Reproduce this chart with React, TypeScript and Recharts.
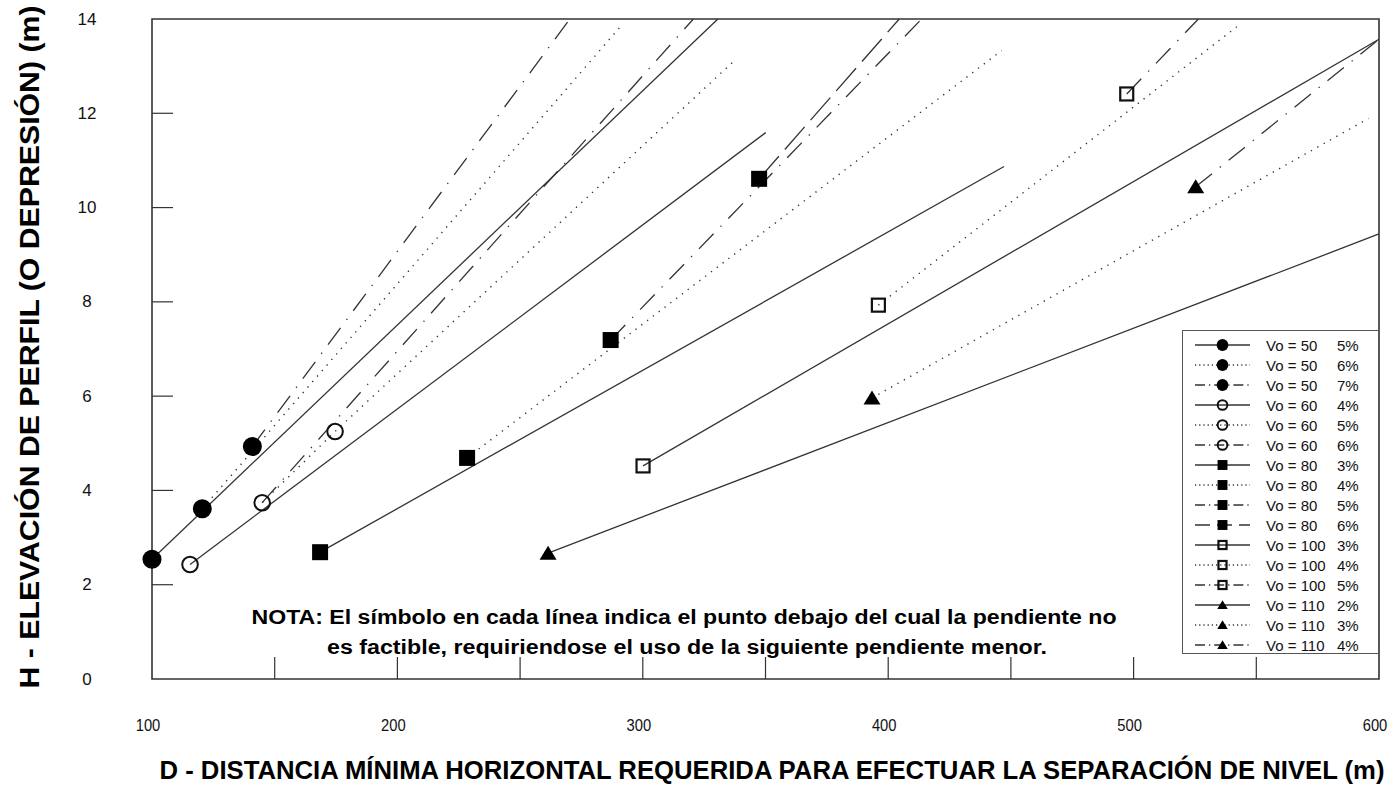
import React from 'react';
import { ComposedChart, Line, XAxis, YAxis, ReferenceArea, Legend, Customized } from 'recharts';

const FONT = '"Liberation Sans", Arial, Helvetica, sans-serif';
const INK = '#333';

// tramos [D (m), H (m)]
const v50_5 = [[100, 2.54], [330.6, 14]];
const v50_6 = [[120.5, 3.61], [291.1, 13.85]];
const v50_7 = [[140.9, 4.93], [270.3, 14]];
const v60_4 = [[115.5, 2.43], [350.1, 11.59]];
const v60_5 = [[144.9, 3.74], [174.6, 5.25], [337.6, 13.13]];
const v60_6 = [[144.9, 3.74], [320.6, 14]];
const v80_3 = [[168.5, 2.69], [447.2, 10.87]];
const v80_4 = [[228.4, 4.69], [446.2, 13.33]];
const v80_5 = [[286.9, 7.19], [413.6, 14]];
const v80_6 = [[347.4, 10.61], [404.5, 14]];
const v100_3 = [[300.1, 4.52], [600, 13.57]];
const v100_4 = [[396, 7.93], [543.4, 13.89]];
const v100_5 = [[497.2, 12.41], [526.4, 14]];
const v110_2 = [[261.4, 2.67], [600, 9.44]];
const v110_3 = [[393.4, 5.96], [595.7, 11.89]];
const v110_4 = [[525.3, 10.44], [600, 13.57]];

const xTicks = [100, 150, 200, 250, 300, 350, 400, 450, 500, 550, 600];
const yTicks = [0, 2, 4, 6, 8, 10, 12, 14];

type Sym = 'circle' | 'ocircle' | 'square' | 'osquare' | 'triangle';
type Dash = 'solid' | 'dot' | 'dashdot' | 'dash';

const series: { vo: number; pct: number; pts: number[][]; mark: number; dash: Dash; sym: Sym }[] = [
  { vo: 50, pct: 5, pts: v50_5, mark: 0, dash: 'solid', sym: 'circle' },
  { vo: 50, pct: 6, pts: v50_6, mark: 0, dash: 'dot', sym: 'circle' },
  { vo: 50, pct: 7, pts: v50_7, mark: 0, dash: 'dashdot', sym: 'circle' },
  { vo: 60, pct: 4, pts: v60_4, mark: 0, dash: 'solid', sym: 'ocircle' },
  { vo: 60, pct: 5, pts: v60_5, mark: 1, dash: 'dot', sym: 'ocircle' },
  { vo: 60, pct: 6, pts: v60_6, mark: 0, dash: 'dashdot', sym: 'ocircle' },
  { vo: 80, pct: 3, pts: v80_3, mark: 0, dash: 'solid', sym: 'square' },
  { vo: 80, pct: 4, pts: v80_4, mark: 0, dash: 'dot', sym: 'square' },
  { vo: 80, pct: 5, pts: v80_5, mark: 0, dash: 'dashdot', sym: 'square' },
  { vo: 80, pct: 6, pts: v80_6, mark: 0, dash: 'dash', sym: 'square' },
  { vo: 100, pct: 3, pts: v100_3, mark: 0, dash: 'solid', sym: 'osquare' },
  { vo: 100, pct: 4, pts: v100_4, mark: 0, dash: 'dot', sym: 'osquare' },
  { vo: 100, pct: 5, pts: v100_5, mark: 0, dash: 'dashdot', sym: 'osquare' },
  { vo: 110, pct: 2, pts: v110_2, mark: 0, dash: 'solid', sym: 'triangle' },
  { vo: 110, pct: 3, pts: v110_3, mark: 0, dash: 'dot', sym: 'triangle' },
  { vo: 110, pct: 4, pts: v110_4, mark: 0, dash: 'dashdot', sym: 'triangle' },
];

const plotDash: Record<Dash, string | undefined> = {
  solid: undefined,
  dot: '1.3 6',
  dashdot: '21 10 1.3 10',
  dash: '30 9',
};
const legendDash: Record<Dash, string | undefined> = {
  solid: undefined,
  dot: '1.2 3',
  dashdot: '10 4 1.2 4',
  dash: '15 7',
};

const Marker = ({ sym, cx, cy, s = 1 }: { sym: Sym; cx: number; cy: number; s?: number }) => {
  switch (sym) {
    case 'circle':
      return <circle cx={cx} cy={cy} r={9.5 * s} fill="#000" />;
    case 'ocircle':
      return <circle cx={cx} cy={cy} r={7.8 * s} fill="none" stroke="#111" strokeWidth={2} />;
    case 'square':
      return <rect x={cx - 8 * s} y={cy - 8 * s} width={16 * s} height={16 * s} fill="#000" />;
    case 'osquare':
      return (
        <rect x={cx - 6.5 * s} y={cy - 6.5 * s} width={13 * s} height={13 * s} fill="none" stroke="#111" strokeWidth={2.2} />
      );
    default:
      return (
        <polygon
          points={`${cx},${cy - 7.5 * s} ${cx + 8.5 * s},${cy + 6.5 * s} ${cx - 8.5 * s},${cy + 6.5 * s}`}
          fill="#000"
        />
      );
  }
};

const XTick = ({ x, y, payload }: any) => {
  const v = payload.value;
  return (
    <g>
      {v > 100 && v < 600 && <line x1={x} y1={y} x2={x} y2={y - 22} stroke={INK} strokeWidth={1.2} />}
      {v % 100 === 0 && (
        <text
          x={x - 4}
          y={y + 46}
          textAnchor="middle"
          dominantBaseline="central"
          fontFamily={FONT}
          fontSize={17}
          fill="#111"
          textLength={String(v).length * 8.2}
          lengthAdjust="spacingAndGlyphs"
        >
          {v}
        </text>
      )}
    </g>
  );
};

const YTick = ({ x, y, payload }: any) => {
  const v = payload.value;
  return (
    <g>
      {v > 0 && v < 14 && <line x1={x} y1={y} x2={x + 21} y2={y} stroke={INK} strokeWidth={1.2} />}
      <text x={x - 65} y={y} textAnchor="middle" dominantBaseline="central" fontFamily={FONT} fontSize={17} fill="#111">
        {v}
      </text>
    </g>
  );
};

const Texts = () => (
  <g fontFamily={FONT} fontWeight="bold" fill="#000">
    <text
      transform="translate(30,347) rotate(-90)"
      textAnchor="middle"
      dominantBaseline="central"
      fontSize={27}
      textLength={683}
      lengthAdjust="spacingAndGlyphs"
    >
      H - ELEVACIÓN DE PERFIL (O DEPRESIÓN) (m)
    </text>
    <text x={772} y={770} textAnchor="middle" dominantBaseline="central" fontSize={25} textLength={1225} lengthAdjust="spacingAndGlyphs">
      D - DISTANCIA MÍNIMA HORIZONTAL REQUERIDA PARA EFECTUAR LA SEPARACIÓN DE NIVEL (m)
    </text>
    <text x={684} y={617} textAnchor="middle" dominantBaseline="central" fontSize={20} textLength={865} lengthAdjust="spacingAndGlyphs">
      NOTA: El símbolo en cada línea indica el punto debajo del cual la pendiente no
    </text>
    <text x={687} y={647} textAnchor="middle" dominantBaseline="central" fontSize={20} textLength={720} lengthAdjust="spacingAndGlyphs">
      es factible, requiriendose el uso de la siguiente pendiente menor.
    </text>
  </g>
);

const LegendBox = () => (
  <div
    style={{
      width: 197,
      height: 324,
      border: '1px solid #555',
      boxSizing: 'border-box',
      background: '#fff',
      paddingTop: 4,
      fontFamily: FONT,
      fontSize: 15,
      color: '#111',
    }}
  >
    {series.map((s, i) => (
      <div key={i} style={{ display: 'flex', alignItems: 'center', height: 20, whiteSpace: 'nowrap' }}>
        <svg width={83} height={20} style={{ display: 'block' }}>
          <line x1={12} y1={10} x2={67} y2={10} stroke={INK} strokeWidth={1.3} strokeDasharray={legendDash[s.dash]} />
          <Marker sym={s.sym} cx={39.5} cy={10} s={0.62} />
        </svg>
        <span style={{ width: 71 }}>Vo = {s.vo}</span>
        <span>{s.pct}%</span>
      </div>
    ))}
  </div>
);

export default function App() {
  return (
    <div style={{ position: 'absolute', left: 0, top: 0, width: 1400, height: 785, background: '#fff' }}>
      <ComposedChart width={1400} height={785} margin={{ top: 19, right: 21, bottom: 0, left: 0 }}>
        <XAxis
          type="number"
          dataKey="d"
          domain={[100, 600]}
          ticks={xTicks}
          interval={0}
          height={106}
          axisLine={false}
          tickLine={false}
          tickSize={0}
          tickMargin={0}
          tick={<XTick />}
        />
        <YAxis
          type="number"
          dataKey="h"
          domain={[0, 14]}
          ticks={yTicks}
          interval={0}
          width={152}
          axisLine={false}
          tickLine={false}
          tickSize={0}
          tickMargin={0}
          tick={<YTick />}
        />
        <ReferenceArea x1={100} x2={600} y1={0} y2={14} fill="none" stroke={INK} strokeWidth={1.6} />
        {series.map((s, i) => (
          <Line
            key={i}
            name={`Vo = ${s.vo} ${s.pct}%`}
            data={s.pts.map(([d, h]) => ({ d, h }))}
            dataKey="h"
            type="linear"
            stroke={INK}
            strokeWidth={s.dash === 'dot' ? 1.4 : 1.3}
            strokeDasharray={plotDash[s.dash]}
            isAnimationActive={false}
            dot={(p: any) =>
              p.index === s.mark ? (
                <Marker key={`m${i}-${p.index}`} sym={s.sym} cx={p.cx} cy={p.cy} />
              ) : (
                <g key={`m${i}-${p.index}`} />
              )
            }
            activeDot={false}
          />
        ))}
        <Customized component={Texts} />
        <Legend
          layout="vertical"
          align="center"
          verticalAlign="middle"
          content={LegendBox}
          wrapperStyle={{ left: 1182, top: 330, width: 197, height: 324 }}
        />
      </ComposedChart>
    </div>
  );
}
